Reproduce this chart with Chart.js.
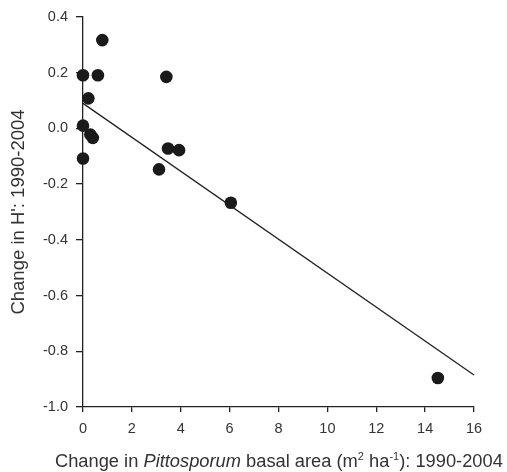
<!DOCTYPE html>
<html>
<head>
<meta charset="utf-8">
<script src="https://cdn.jsdelivr.net/npm/chart.js@4/dist/chart.umd.min.js"></script>
<style>
  html, body { margin: 0; padding: 0; background: #fff; }
  #wrap { position: relative; width: 507px; height: 472px; overflow: hidden; }
  #c { position: absolute; left: 0; top: 0; }
  #xtitle {
    position: absolute; left: 55px; top: 452px;
    text-align: left; white-space: nowrap;
    font-family: "Liberation Sans", Arial, sans-serif; font-size: 18.3px; line-height: 18px; color: #333;
  }
  #xtitle .sup { font-size: 11px; position: relative; top: -7px; }
</style>
</head>
<body>
<div id="wrap">
  <canvas id="c" width="507" height="472"></canvas>
  <div id="xtitle">Change in <i>Pittosporum</i> basal area (m<span class="sup">2</span> ha<span class="sup">-1</span>): 1990-2004</div>
</div>
<script>
// Change in Pittosporum basal area (m2 ha-1), 1990-2004
const basalAreaChange = [0, 0.61, 0.79, 3.41, 0.22, 0, 0.30, 0.40, 0, 3.48, 3.93, 3.11, 6.05, 14.52];
// Change in H' (Shannon diversity), 1990-2004
const diversityChange = [0.191, 0.191, 0.317, 0.185, 0.108, 0.010, -0.022, -0.034, -0.108, -0.072, -0.078, -0.147, -0.267, -0.896];
// Fitted regression line end points
const fitX = [0, 16];
const fitY = [0.09, -0.885];
// Axis ranges / ticks
const xTicks = [0, 2, 4, 6, 8, 10, 12, 14, 16];
const yTicks = [-1.0, -0.8, -0.6, -0.4, -0.2, 0.0, 0.2, 0.4];

const points = basalAreaChange.map((x, i) => ({ x: x, y: diversityChange[i] }));
const fit = fitX.map((x, i) => ({ x: x, y: fitY[i] }));

const axisColor = '#222';
const textColor = '#333';
const fontFamily = '"Liberation Sans", Arial, sans-serif';

new Chart(document.getElementById('c'), {
  type: 'scatter',
  data: {
    datasets: [
      {
        type: 'scatter',
        data: points,
        pointRadius: 6.3,
        pointBackgroundColor: '#1a1a1a',
        pointBorderColor: '#1a1a1a',
        pointBorderWidth: 0,
        clip: false,
        order: 1
      },
      {
        type: 'line',
        data: fit,
        borderColor: '#222',
        borderWidth: 1.3,
        pointRadius: 0,
        fill: false,
        tension: 0,
        clip: false,
        order: 2
      }
    ]
  },
  options: {
    responsive: false,
    animation: false,
    events: [],
    layout: { padding: { left: 0, right: 33, top: 17, bottom: 0 } },
    plugins: { legend: { display: false }, tooltip: { enabled: false } },
    scales: {
      x: {
        type: 'linear',
        min: xTicks[0],
        max: xTicks[xTicks.length - 1],
        afterBuildTicks: (s) => { s.ticks = xTicks.map(v => ({ value: v })); },
        afterFit: (s) => { s.height = 65; },
        border: { display: true, color: axisColor, width: 1.3 },
        grid: { display: true, drawOnChartArea: false, drawTicks: true, tickLength: 5, color: axisColor, lineWidth: 1.3 },
        ticks: {
          padding: 8,
          color: textColor,
          font: { family: fontFamily, size: 14.5 },
          callback: (v) => String(v),
          maxRotation: 0
        }
      },
      y: {
        type: 'linear',
        min: yTicks[0],
        max: yTicks[yTicks.length - 1],
        afterBuildTicks: (s) => { s.ticks = yTicks.map(v => ({ value: v })); },
        afterFit: (s) => { s.width = 83; },
        border: { display: true, color: axisColor, width: 1.3 },
        grid: { display: true, drawOnChartArea: false, drawTicks: true, tickLength: 7, color: axisColor, lineWidth: 1.3 },
        ticks: {
          padding: 8,
          color: textColor,
          font: { family: fontFamily, size: 14.5 },
          callback: (v) => Number(v).toFixed(1)
        },
        title: {
          display: true,
          text: "Change in H': 1990-2004",
          color: textColor,
          font: { family: fontFamily, size: 18.5 },
          padding: { top: 8, bottom: 0 }
        }
      }
    }
  }
});
</script>
</body>
</html>
